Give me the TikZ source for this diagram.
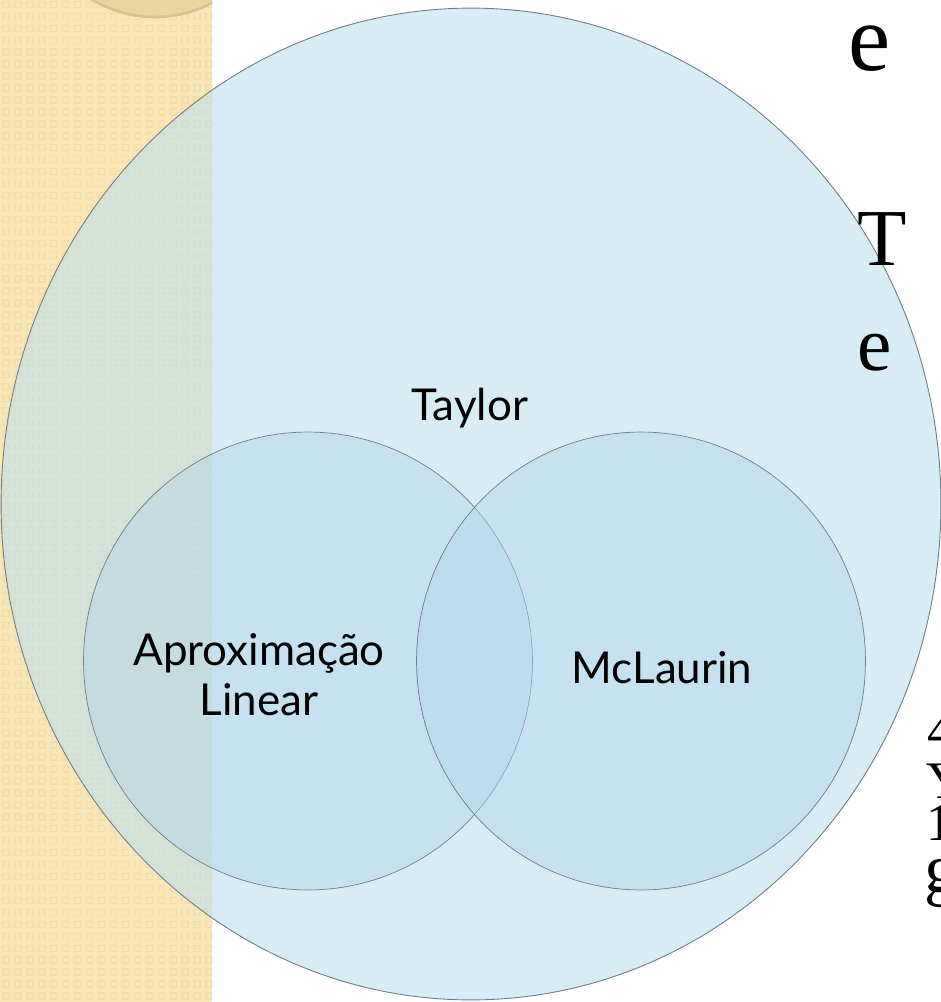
\documentclass[tikz,border=0pt]{standalone}
\usepackage{fontspec}
\setmainfont{Liberation Serif}
\newfontfamily\vennfont{Lato}
\usetikzlibrary{patterns,shapes.geometric}

\definecolor{stripebeige}{RGB}{249,230,182}
\definecolor{stripedots}{RGB}{241,221,173}
\definecolor{tabbeige}{RGB}{233,213,160}
\definecolor{tabedge}{RGB}{214,195,148}
\definecolor{setblue}{RGB}{189,224,239}
\definecolor{subblue}{RGB}{178,216,235}
\definecolor{setedge}{RGB}{112,124,132}

\pgfdeclarepatternformonly{tiles}{\pgfqpoint{-1pt}{-1pt}}{\pgfqpoint{8pt}{8pt}}{\pgfqpoint{6.8pt}{6.8pt}}{
  \pgfsetlinewidth{0.8pt}
  \pgfpathrectangle{\pgfqpoint{1.7pt}{1.7pt}}{\pgfqpoint{3.4pt}{3.4pt}}
  \pgfusepath{stroke}
}

\begin{document}
\begin{tikzpicture}[
    x=0.02cm, y=-0.02cm,
    bigset/.style={ellipse, draw=setedge, line width=0.5pt, fill=setblue,
                   fill opacity=0.6, draw opacity=1, inner sep=0pt},
    subset/.style={ellipse, draw=setedge, line width=0.4pt, fill=subblue,
                   fill opacity=0.45, draw opacity=1, inner sep=0pt,
                   minimum width=8.98cm, minimum height=9.16cm},
    setlabel/.style={font=\vennfont\fontsize{25}{28.3}\selectfont,
                     align=center, inner sep=0pt, anchor=base},
    slidetext/.style={font=\fontsize{44}{50}\selectfont,
                      anchor=base west, inner sep=0pt}
]
  \useasboundingbox (0,0) rectangle (941,1002);
  \fill[white] (0,0) rectangle (941,1002);
  \fill[stripebeige] (0,0) rectangle (212,1002);
  \fill[pattern=tiles, pattern color=stripedots] (0,0) rectangle (212,1002);
  \begin{scope}
    \clip (0,0) rectangle (212,1002);
    \filldraw[fill=tabbeige, draw=tabedge, line width=1.5pt]
      (155,-105) circle [radius=2.44cm];
  \end{scope}

  \node[bigset, minimum width=18.8cm, minimum height=19.84cm] (taylor) at (471,504) {};
  \node[subset] (linear) at (308,661) {};
  \node[subset] (mclaurin) at (641,661) {};

  \node[slidetext, font=\fontsize{54}{60}\selectfont] (title) at (848,70) {e};
  \node[slidetext, font=\fontsize{46}{52}\selectfont] (line1) at (857,265) {T};
  \node[slidetext] (line2) at (857,370) {e};
  \node[slidetext, font=\fontsize{30}{34}\selectfont] (frag1) at (927,748) {4};
  \node[slidetext, font=\fontsize{30}{34}\selectfont] (frag2) at (926,798) {Y};
  \node[slidetext, font=\fontsize{30}{34}\selectfont] (frag3) at (926,840) {1};
  \node[slidetext, font=\fontsize{40}{46}\selectfont] (frag4) at (924,892) {g};

  \node[setlabel] (taylorlbl) at (470,420) {Taylor};
  \node[setlabel] (linearlbl) at (259,715) {Aproximação\\Linear};
  \node[setlabel] (mclaurinlbl) at (662,683) {McLaurin};
\end{tikzpicture}
\end{document}
